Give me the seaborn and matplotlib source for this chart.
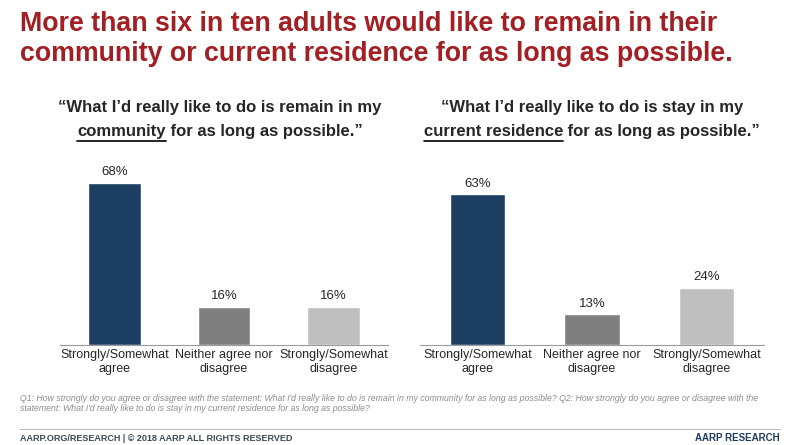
import matplotlib
matplotlib.use("Agg")
import matplotlib.pyplot as plt
import seaborn as sns
import pandas as pd

sns.set_style("white")
plt.rcParams['font.family'] = ['Liberation Sans', 'DejaVu Sans']

categories = ["Strongly/Somewhat\nagree", "Neither agree nor\ndisagree", "Strongly/Somewhat\ndisagree"]
community = [68, 16, 16]
residence = [63, 13, 24]
colors = ["#123f6e", "#7f7f7f", "#bfbfbf"]

fig = plt.figure(figsize=(8, 4.45), dpi=100)
fig.text(0.025, 0.975, "More than six in ten adults would like to remain in their\ncommunity or current residence for as long as possible.",
         color="#a31f24", fontsize=19.3, fontweight="bold", va="top", ha="left", linespacing=1.2)

ax1 = fig.add_axes([0.075, 0.225, 0.41, 0.44])
ax2 = fig.add_axes([0.525, 0.225, 0.43, 0.44])

def draw(ax, vals):
    df = pd.DataFrame({"cat": categories, "val": vals})
    sns.barplot(data=df, x="cat", y="val", hue="cat", palette=colors, legend=False, ax=ax, width=0.48)
    ax.set_ylim(0, 82)
    ax.set_yticks([])
    ax.set_xlabel("")
    ax.set_ylabel("")
    for s in ["top", "right", "left"]:
        ax.spines[s].set_visible(False)
    ax.spines["bottom"].set_color("#999999")
    ax.tick_params(axis="x", labelsize=9, length=0, pad=3)
    for p, v in zip(ax.patches, vals):
        ax.text(p.get_x() + p.get_width() / 2, v + 1.8, f"{v}%", ha="center", va="bottom", fontsize=9.5)

draw(ax1, community)
draw(ax2, residence)

# titles with underlined word
fig.canvas.draw()
r = fig.canvas.get_renderer()
W = fig.get_figwidth() * fig.dpi

def title(xc, line1, und, post, y1=0.748, y2=0.694):
    fig.text(xc, y1, line1, ha="center", va="baseline", fontsize=12, fontweight="bold")
    ts = [fig.text(0, y2, s, fontsize=12, fontweight="bold", va="baseline") for s in (und, post)]
    widths = [t.get_window_extent(r).width for t in ts]
    x = xc * W - sum(widths) / 2
    for i, (t, w) in enumerate(zip(ts, widths)):
        t.set_x(x / W)
        if i == 0:
            fig.add_artist(plt.Line2D([x / W, (x + w) / W], [y2 - 0.011, y2 - 0.011], color="black", lw=1.2))
        x += w

title(0.275, "\u201cWhat I\u2019d really like to do is remain in my", "community", " for as long as possible.\u201d")
title(0.74, "\u201cWhat I\u2019d really like to do is stay in my", "current residence", " for as long as possible.\u201d")

fig.text(0.025, 0.115, "Q1: How strongly do you agree or disagree with the statement: What I'd really like to do is remain in my community for as long as possible? Q2: How strongly do you agree or disagree with the\nstatement: What I'd really like to do is stay in my current residence for as long as possible?",
         fontsize=6.3, style="italic", color="#8c8c8c", va="top", ha="left")
fig.add_artist(plt.Line2D([0.025, 0.975], [0.035, 0.035], color="#bbbbbb", lw=0.8))
fig.text(0.025, 0.008, "AARP.ORG/RESEARCH | \u00a9 2018 AARP ALL RIGHTS RESERVED", fontsize=6.5, fontweight="bold", color="#3a4a5a")
fig.text(0.975, 0.008, "AARP RESEARCH", fontsize=7, fontweight="bold", color="#1f3a60", ha="right")

fig.savefig("out.png", dpi=100)
